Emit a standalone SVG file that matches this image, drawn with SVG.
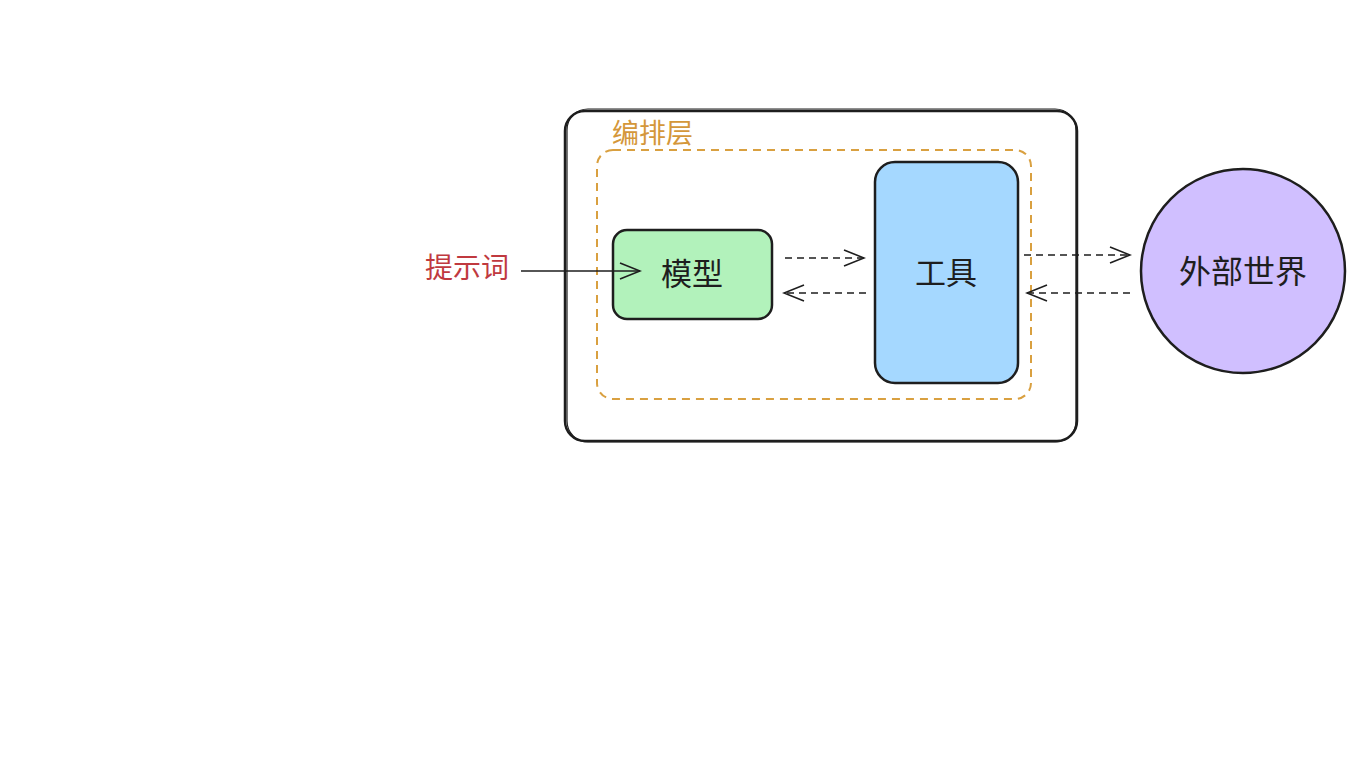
<svg xmlns="http://www.w3.org/2000/svg" width="1365" height="768" viewBox="0 0 1365 768">
<style>
.t{font-family:"Noto Sans CJK SC","Noto Sans",sans-serif;}
.node{stroke:#1e1e1e;stroke-width:2.5;}
.edge{fill:none;stroke:#1e1e1e;stroke-width:1.5;}
.dash{stroke-dasharray:7 5;}
</style>
<defs>
<marker id="ah" viewBox="0 0 24 24" refX="22" refY="12" markerWidth="24" markerHeight="24" markerUnits="userSpaceOnUse" orient="auto">
<path d="M2 4 L22 12 L2 20" fill="none" stroke="#1e1e1e" stroke-width="1.6"/>
</marker>
</defs>
<rect width="1365" height="768" fill="#ffffff"/>
<g id="outer">
<rect x="565" y="111" width="512" height="330" rx="20" fill="none" stroke="#1e1e1e" stroke-width="2.5"/>
<rect x="567" y="109" width="509" height="333" rx="21" fill="none" stroke="#1e1e1e" stroke-width="1.2"/>
</g>
<g id="orchestration">
<rect x="597" y="150" width="434" height="249" rx="16" fill="none" stroke="#d9a040" stroke-width="2" stroke-dasharray="8 6"/>
<text class="t" x="612" y="143" font-size="27" fill="#d4973a">编排层</text>
</g>
<g id="model">
<rect class="node" x="613" y="230" width="159" height="89" rx="14" fill="#b2f2bb"/>
<text class="t" x="692" y="285" font-size="31" text-anchor="middle" fill="#1e1e1e">模型</text>
</g>
<g id="tools">
<rect class="node" x="875" y="162" width="143" height="221" rx="20" fill="#a5d8ff"/>
<text class="t" x="946" y="284" font-size="31" text-anchor="middle" fill="#1e1e1e">工具</text>
</g>
<g id="world">
<circle class="node" cx="1243" cy="271" r="102" fill="#d0bfff"/>
<text class="t" x="1243" y="283" font-size="32" text-anchor="middle" fill="#1e1e1e">外部世界</text>
</g>
<g id="prompt">
<text class="t" x="425" y="278" font-size="28" fill="#c0393f">提示词</text>
</g>
<g id="connectors">
<path class="edge" d="M521 271 L640 271" marker-end="url(#ah)"/>
<path class="edge dash" d="M785 258 L864 258" marker-end="url(#ah)"/>
<path class="edge dash" d="M866 293 L784 293" marker-end="url(#ah)"/>
<path class="edge dash" d="M1024 255 L1130 255" marker-end="url(#ah)"/>
<path class="edge dash" d="M1130 293 L1027 293" marker-end="url(#ah)"/>
</g>
</svg>
